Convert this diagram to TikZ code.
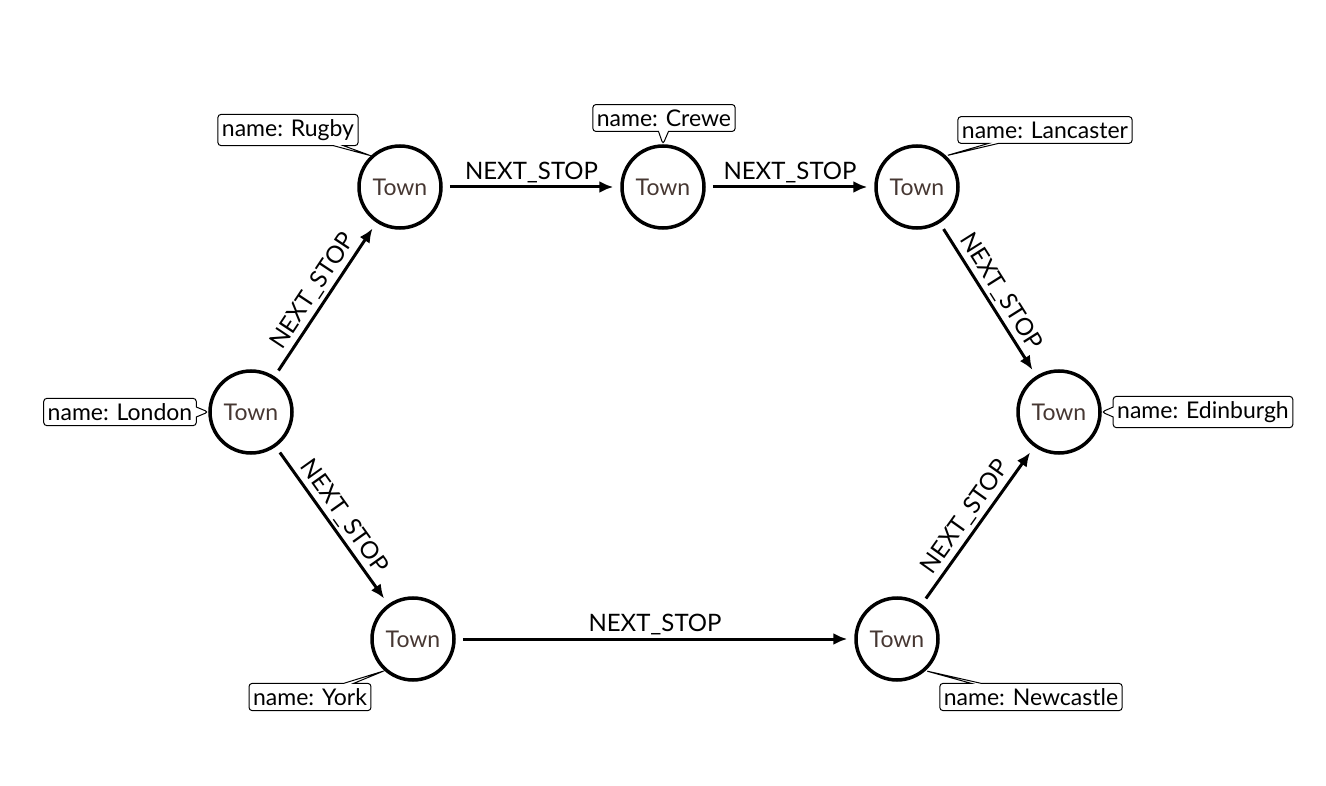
\documentclass[tikz,border=0pt]{standalone}
\usepackage{fontspec}
\setmainfont{Lato}
\usetikzlibrary{shapes.callouts,arrows.meta}
\definecolor{towntext}{RGB}{70,55,50}
\tikzset{
  town/.style={circle,draw,line width=3.5pt,minimum size=82pt,inner sep=0pt,
    text=towntext,font=\fontsize{23}{27}\selectfont},
  prop/.style={rectangle callout,draw,line width=1pt,rounded corners=3pt,fill=white,
    inner xsep=4pt,inner ysep=5pt,callout pointer width=10pt,
    font=\fontsize{23}{27}\selectfont},
  rel/.style={->,line width=3pt,shorten <=7pt,shorten >=7pt},
  lbl/.style={font=\fontsize{24}{28}\selectfont,inner sep=3pt}
}
\begin{document}
\begin{tikzpicture}[x=1pt,y=-1pt,>={Latex[length=14pt,width=12pt]}]
  \useasboundingbox (0,0) rectangle (1326,786);
  \node[town] (london) at (251,412) {Town};
  \node[town] (rugby) at (400,187) {Town};
  \node[town] (crewe) at (663,187) {Town};
  \node[town] (lancaster) at (917,187) {Town};
  \node[town] (edinburgh) at (1059,412) {Town};
  \node[town] (york) at (413,639) {Town};
  \node[town] (newcastle) at (897,639) {Town};
  \node[prop,callout absolute pointer={(london.180)}] (plondon) at (120,412) {name: London};
  \node[prop,callout absolute pointer={(rugby.133)}] (prugby) at (288,130) {name: Rugby};
  \node[prop,callout absolute pointer={(crewe.90)}] (pcrewe) at (664,118) {name: Crewe};
  \node[prop,callout absolute pointer={(lancaster.47)}] (plancaster) at (1045,130) {name: Lancaster};
  \node[prop,callout absolute pointer={(edinburgh.0)}] (pedinburgh) at (1203,412) {name: Edinburgh};
  \node[prop,callout absolute pointer={(york.228)}] (pyork) at (310,697) {name: York};
  \node[prop,callout absolute pointer={(newcastle.312)}] (pnewcastle) at (1031,697) {name: Newcastle};
  \draw[rel] (london) -- node[lbl,above,sloped]{NEXT\_STOP} (rugby);
  \draw[rel] (rugby) -- node[lbl,above]{NEXT\_STOP} (crewe);
  \draw[rel] (crewe) -- node[lbl,above]{NEXT\_STOP} (lancaster);
  \draw[rel] (lancaster) -- node[lbl,above,sloped]{NEXT\_STOP} (edinburgh);
  \draw[rel] (london) -- node[lbl,above,sloped]{NEXT\_STOP} (york);
  \draw[rel] (york) -- node[lbl,above]{NEXT\_STOP} (newcastle);
  \draw[rel] (newcastle) -- node[lbl,above,sloped]{NEXT\_STOP} (edinburgh);
\end{tikzpicture}
\end{document}
